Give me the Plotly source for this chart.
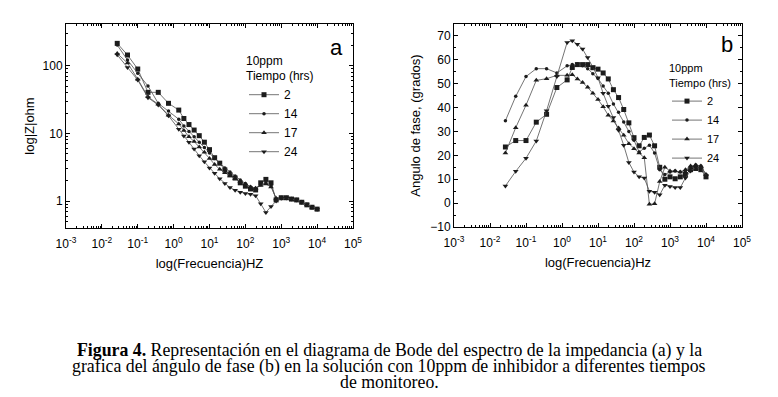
import plotly.graph_objects as go

# ---------------- data ----------------
freq_hz = [0.0268, 0.0518, 0.1, 0.193, 0.373, 0.72, 1.39, 1.93, 2.68, 3.73, 5.18, 7.2,
           10, 13.9, 19.3, 26.8, 37.3, 51.8, 72, 100, 139, 193, 268, 373, 518, 720,
           1000, 1389, 1931, 2683, 3728, 5179, 7197, 10000]

series_names = ["2", "14", "17", "24"]

z_2h = [213.8, 143.9, 89.3, 40.4, 40.4, 27.8, 22.1, 16.6, 13.5, 11.2, 9.25, 7.41, 5.75, 4.37,
        3.63, 2.88, 2.45, 2.19, 1.86, 1.66, 1.51, 1.46, 1.86, 2.09, 1.86, 1.04, 1.12, 1.12,
        1.07, 1.04, 0.96, 0.88, 0.81, 0.76]
z_14h = [201.8, 121.3, 77.1, 50.1, 27.8, 21.4, 16.2, 12.9, 10.7, 8.91, 7.41, 6.17, 5.13, 4.27,
         3.63, 3.09, 2.69, 2.34, 2.04, 1.82, 1.62, 1.55, 1.74, 1.86, 1.70, 1.07, 1.11, 1.11,
         1.07, 1.04, 0.96, 0.88, 0.81, 0.76]
z_17h = [151.4, 109.6, 63.1, 34.7, 26.9, 18.6, 13.8, 11.0, 8.91, 7.59, 6.31, 5.25, 4.27, 3.47,
         2.95, 2.63, 2.34, 2.14, 1.95, 1.78, 1.62, 1.55, 1.70, 1.78, 1.62, 1.10, 1.11, 1.11,
         1.07, 1.04, 0.96, 0.88, 0.81, 0.76]
z_24h = [144.5, 94.4, 61.4, 33.7, 26.3, 18.2, 11.5, 9.12, 7.41, 5.89, 4.68, 3.80, 3.09, 2.57,
         2.14, 1.82, 1.58, 1.45, 1.35, 1.29, 1.26, 1.20, 0.91, 0.68, 0.83, 1.00, 1.10, 1.11,
         1.07, 1.04, 0.96, 0.88, 0.81, 0.76]

ph_2h = [23.5, 26.2, 26.2, 33.9, 37.2, 48.4, 51.6, 56.8, 58, 58, 58, 56.7, 56.1, 54.5, 52,
         47.5, 44.2, 39.2, 33.6, 27.4, 24, 27.5, 28.5, 24, 15, 10, 11, 10.2, 11, 12, 14, 14.5,
         14, 11]
ph_14h = [34.5, 44.7, 53, 56.3, 56.3, 54.5, 57.5, 58, 58.2, 57.5, 56.3, 54.2, 52.2, 49, 46,
          41.5, 38, 34, 30, 26.3, 21.4, 23, 24.2, 21, 14, 12, 13, 13.5, 13, 13.5, 15, 16,
          15.5, 12]
ph_17h = [21, 31.6, 41, 51.4, 52.1, 53.5, 53.5, 53.8, 52, 50.5, 48.5, 46, 43.4, 40.3, 36.8,
          34.4, 31.5, 28.4, 24.9, 22.8, 21, 19, -0.5, -0.3, 9, 15, 13.5, 13.5, 13, 14, 15.5,
          16, 15.5, 12]
ph_24h = [7.2, 13.3, 18.8, 26, 38.7, 53, 67.3, 68, 66.5, 64.5, 61, 57, 52.5, 46, 40.6, 35.8,
          30.5, 24.2, 17, 13, 11, 10.5, 5, 4.5, 3.5, 7.5, 7, 6.5, 6.5, 10.5, 13.5, 15, 14.5,
          11.5]

x_tickvals = [1e-3, 1e-2, 1e-1, 1e0, 1e1, 1e2, 1e3, 1e4, 1e5]
x_ticktext = ["10<sup>-3</sup>", "10<sup>-2</sup>", "10<sup>-1</sup>", "10<sup>0</sup>",
              "10<sup>1</sup>", "10<sup>2</sup>", "10<sup>3</sup>", "10<sup>4</sup>",
              "10<sup>5</sup>"]
yz_tickvals = [1, 10, 100]
yz_ticktext = ["1", "10", "100"]

caption_lines = [
    "<b>Figura 4.</b> Representación en el diagrama de Bode del espectro de la impedancia (a) y la",
    "grafica del ángulo de fase (b) en la solución con 10ppm de inhibidor a diferentes tiempos",
    "de monitoreo.",
]

# ---------------- styling ----------------
# the page body adds an 8px margin, so the figure is drawn 8px smaller and offset
OFF = 8
W, H = 770, 389
FONT = "Arial, Liberation Sans, sans-serif"
symbols = ["square", "circle", "triangle-up", "triangle-down"]
msizes = [5, 3.5, 5, 5]
mcol = "#1c1c1c"
lcol = "#505050"

fig = go.Figure()

z_series = [z_2h, z_14h, z_17h, z_24h]
p_series = [ph_2h, ph_14h, ph_17h, ph_24h]

for name, zs, sym, ms in zip(series_names, z_series, symbols, msizes):
    fig.add_trace(go.Scatter(
        x=freq_hz, y=zs, name=name, mode="lines+markers",
        line=dict(color=lcol, width=0.8),
        marker=dict(symbol=sym, size=ms, color=mcol),
        xaxis="x", yaxis="y", legend="legend"))

for name, ps, sym, ms in zip(series_names, p_series, symbols, msizes):
    fig.add_trace(go.Scatter(
        x=freq_hz, y=ps, name=name, mode="lines+markers",
        line=dict(color=lcol, width=0.8),
        marker=dict(symbol=sym, size=ms, color=mcol),
        xaxis="x2", yaxis="y2", legend="legend2"))

def px_x(v):
    return (v - OFF) / W

def px_y(v):
    return 1 - (v - OFF) / H

common_axis = dict(
    showline=True, linecolor="black", linewidth=1, mirror="allticks",
    ticks="inside", ticklen=4, tickcolor="black", showgrid=False, zeroline=False,
    automargin=False,
    tickfont=dict(family=FONT, size=12, color="black"),
)

fig.update_layout(
    width=W, height=H,
    margin=dict(l=0, r=0, t=0, b=0, autoexpand=False),
    paper_bgcolor="white", plot_bgcolor="white",
    font=dict(family=FONT, color="black"),
    xaxis=dict(
        type="log", range=[-3, 5], domain=[px_x(66), px_x(353)], anchor="y",
        tickvals=x_tickvals, ticktext=x_ticktext, ticklabelstandoff=5,
        minor=dict(ticks="inside", ticklen=2, tickcolor="black", dtick="D1"),
        title=dict(text="log(Frecuencia)HZ", font=dict(family=FONT, size=13), standoff=8),
        **common_axis),
    yaxis=dict(
        type="log", range=[-0.398, 2.616], domain=[px_y(228), px_y(24)], anchor="x",
        tickvals=yz_tickvals, ticktext=yz_ticktext,
        minor=dict(ticks="inside", ticklen=2, tickcolor="black", dtick="D1"),
        title=dict(text="log|Z|ohm", font=dict(family=FONT, size=13), standoff=5),
        **common_axis),
    xaxis2=dict(
        type="log", range=[-3, 5], domain=[px_x(454), px_x(742)], anchor="y2",
        tickvals=x_tickvals, ticktext=x_ticktext, ticklabelstandoff=5,
        minor=dict(ticks="inside", ticklen=2, tickcolor="black", dtick="D1"),
        title=dict(text="log(Frecuencia)Hz", font=dict(family=FONT, size=13), standoff=8),
        **common_axis),
    yaxis2=dict(
        range=[-10, 75], domain=[px_y(227), px_y(24)], anchor="x2",
        dtick=10, tick0=0,
        minor=dict(ticks="inside", ticklen=2, tickcolor="black", dtick=5),
        title=dict(text="Angulo de fase, (grados)", font=dict(family=FONT, size=13), standoff=6),
        **common_axis),
    legend=dict(
        x=px_x(244), y=px_y(49), xanchor="left", yanchor="top",
        bgcolor="rgba(0,0,0,0)", font=dict(family=FONT, size=12),
        title=dict(text="10ppm<br>Tiempo (hrs)", font=dict(family=FONT, size=12)),
        tracegroupgap=0, itemwidth=30),
    legend2=dict(
        x=px_x(667), y=px_y(58), xanchor="left", yanchor="top",
        bgcolor="rgba(0,0,0,0)", font=dict(family=FONT, size=11),
        title=dict(text="10ppm<br>Tiempo (hrs)", font=dict(family=FONT, size=11)),
        tracegroupgap=0, itemwidth=30),
    showlegend=True,
)

fig.add_annotation(text="a", xref="paper", yref="paper", x=px_x(336), y=px_y(47),
                   xanchor="center", yanchor="middle",
                   showarrow=False, font=dict(family=FONT, size=22))
fig.add_annotation(text="b", xref="paper", yref="paper", x=px_x(727), y=px_y(45),
                   xanchor="center", yanchor="middle",
                   showarrow=False, font=dict(family=FONT, size=22))

for k, line in enumerate(caption_lines):
    fig.add_annotation(text=line, xref="paper", yref="paper",
                       x=px_x(389), y=px_y(350 + 16 * k), showarrow=False,
                       xanchor="center", yanchor="middle",
                       font=dict(family="Liberation Serif, Times New Roman, serif", size=17.8))

fig.write_html("out.html")
